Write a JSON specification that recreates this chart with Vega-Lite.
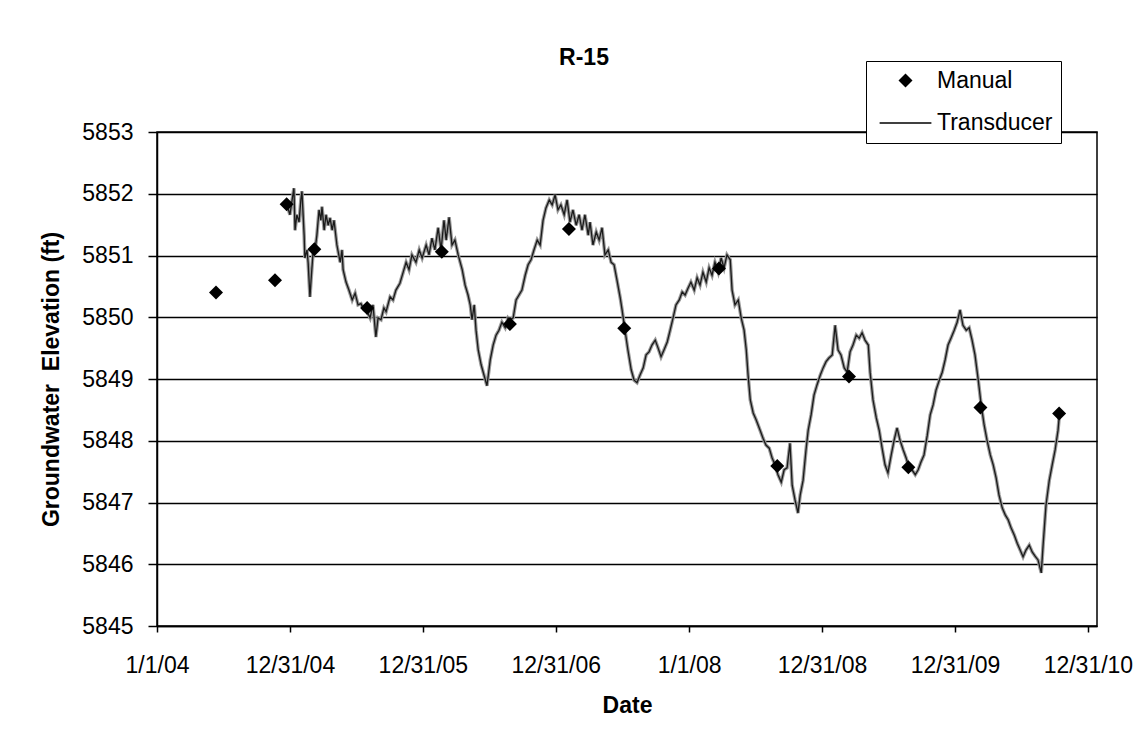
{
  "$schema": "https://vega.github.io/schema/vega-lite/v6.json",
  "width": 940,
  "height": 494,
  "autosize": "none",
  "padding": {"left": 157, "top": 132, "right": 41, "bottom": 129},
  "background": "white",
  "title": {"text": "R-15", "fontSize": 23, "fontWeight": "bold", "font": "Liberation Sans", "color": "black", "anchor": "middle", "frame": "group", "dx": -43, "offset": -27, "baseline": "alphabetic"},
  "datasets": {
    "transducer": [
      {"date": "2004-12-23", "elev": 5851.82}, {"date": "2004-12-31", "elev": 5851.66}, {"date": "2005-01-06", "elev": 5851.90}, {"date": "2005-01-11", "elev": 5852.09},
      {"date": "2005-01-14", "elev": 5851.41}, {"date": "2005-01-19", "elev": 5851.66}, {"date": "2005-01-25", "elev": 5851.54}, {"date": "2005-01-30", "elev": 5851.90},
      {"date": "2005-02-02", "elev": 5852.04}, {"date": "2005-02-08", "elev": 5851.33}, {"date": "2005-02-10", "elev": 5850.96}, {"date": "2005-02-16", "elev": 5851.09},
      {"date": "2005-02-19", "elev": 5850.88}, {"date": "2005-02-24", "elev": 5850.33}, {"date": "2005-02-27", "elev": 5850.60}, {"date": "2005-03-04", "elev": 5851.01},
      {"date": "2005-03-10", "elev": 5851.09}, {"date": "2005-03-15", "elev": 5851.33}, {"date": "2005-03-21", "elev": 5851.74}, {"date": "2005-03-26", "elev": 5851.57},
      {"date": "2005-03-29", "elev": 5851.79}, {"date": "2005-04-04", "elev": 5851.41}, {"date": "2005-04-09", "elev": 5851.66}, {"date": "2005-04-15", "elev": 5851.49},
      {"date": "2005-04-20", "elev": 5851.61}, {"date": "2005-04-26", "elev": 5851.41}, {"date": "2005-05-01", "elev": 5851.57}, {"date": "2005-05-09", "elev": 5851.17},
      {"date": "2005-05-18", "elev": 5850.89}, {"date": "2005-05-23", "elev": 5851.09}, {"date": "2005-05-26", "elev": 5850.77}, {"date": "2005-06-03", "elev": 5850.57},
      {"date": "2005-06-11", "elev": 5850.44}, {"date": "2005-06-20", "elev": 5850.28}, {"date": "2005-06-28", "elev": 5850.39}, {"date": "2005-07-06", "elev": 5850.20},
      {"date": "2005-07-14", "elev": 5850.22}, {"date": "2005-07-22", "elev": 5850.12}, {"date": "2005-07-31", "elev": 5850.09}, {"date": "2005-08-08", "elev": 5849.99},
      {"date": "2005-08-16", "elev": 5850.20}, {"date": "2005-08-24", "elev": 5849.68}, {"date": "2005-08-30", "elev": 5849.99}, {"date": "2005-09-07", "elev": 5849.96},
      {"date": "2005-09-15", "elev": 5850.15}, {"date": "2005-09-21", "elev": 5850.09}, {"date": "2005-10-02", "elev": 5850.33}, {"date": "2005-10-10", "elev": 5850.28},
      {"date": "2005-10-18", "elev": 5850.44}, {"date": "2005-10-29", "elev": 5850.55}, {"date": "2005-11-07", "elev": 5850.73}, {"date": "2005-11-15", "elev": 5850.89},
      {"date": "2005-11-23", "elev": 5850.77}, {"date": "2005-12-01", "elev": 5851.01}, {"date": "2005-12-12", "elev": 5850.89}, {"date": "2005-12-21", "elev": 5851.09},
      {"date": "2005-12-29", "elev": 5850.96}, {"date": "2006-01-09", "elev": 5851.17}, {"date": "2006-01-17", "elev": 5851.01}, {"date": "2006-01-25", "elev": 5851.28},
      {"date": "2006-02-02", "elev": 5851.09}, {"date": "2006-02-11", "elev": 5851.45}, {"date": "2006-02-19", "elev": 5851.09}, {"date": "2006-02-27", "elev": 5851.57},
      {"date": "2006-03-05", "elev": 5851.25}, {"date": "2006-03-13", "elev": 5851.62}, {"date": "2006-03-21", "elev": 5851.17}, {"date": "2006-03-29", "elev": 5851.25},
      {"date": "2006-04-07", "elev": 5851.01}, {"date": "2006-04-18", "elev": 5850.77}, {"date": "2006-04-26", "elev": 5850.52}, {"date": "2006-05-04", "elev": 5850.36},
      {"date": "2006-05-10", "elev": 5850.20}, {"date": "2006-05-15", "elev": 5849.96}, {"date": "2006-05-21", "elev": 5850.20}, {"date": "2006-05-26", "elev": 5849.79},
      {"date": "2006-06-01", "elev": 5849.47}, {"date": "2006-06-09", "elev": 5849.23}, {"date": "2006-06-17", "elev": 5849.06}, {"date": "2006-06-25", "elev": 5848.89},
      {"date": "2006-07-04", "elev": 5849.31}, {"date": "2006-07-12", "elev": 5849.55}, {"date": "2006-07-20", "elev": 5849.71}, {"date": "2006-07-28", "elev": 5849.79},
      {"date": "2006-08-05", "elev": 5849.92}, {"date": "2006-08-14", "elev": 5849.83}, {"date": "2006-08-22", "elev": 5849.99}, {"date": "2006-08-27", "elev": 5849.96},
      {"date": "2006-09-05", "elev": 5849.99}, {"date": "2006-09-13", "elev": 5850.28}, {"date": "2006-09-21", "elev": 5850.36}, {"date": "2006-09-29", "elev": 5850.44},
      {"date": "2006-10-08", "elev": 5850.68}, {"date": "2006-10-16", "elev": 5850.85}, {"date": "2006-10-24", "elev": 5850.93}, {"date": "2006-11-01", "elev": 5851.09},
      {"date": "2006-11-10", "elev": 5851.25}, {"date": "2006-11-18", "elev": 5851.17}, {"date": "2006-11-26", "elev": 5851.57}, {"date": "2006-12-04", "elev": 5851.77},
      {"date": "2006-12-13", "elev": 5851.90}, {"date": "2006-12-21", "elev": 5851.82}, {"date": "2006-12-29", "elev": 5851.98}, {"date": "2007-01-06", "elev": 5851.74},
      {"date": "2007-01-14", "elev": 5851.82}, {"date": "2007-01-23", "elev": 5851.66}, {"date": "2007-01-31", "elev": 5851.90}, {"date": "2007-02-08", "elev": 5851.54},
      {"date": "2007-02-16", "elev": 5851.74}, {"date": "2007-02-25", "elev": 5851.49}, {"date": "2007-03-05", "elev": 5851.66}, {"date": "2007-03-13", "elev": 5851.41},
      {"date": "2007-03-21", "elev": 5851.66}, {"date": "2007-03-30", "elev": 5851.33}, {"date": "2007-04-04", "elev": 5851.54}, {"date": "2007-04-12", "elev": 5851.17},
      {"date": "2007-04-21", "elev": 5851.38}, {"date": "2007-04-29", "elev": 5851.25}, {"date": "2007-05-07", "elev": 5851.45}, {"date": "2007-05-15", "elev": 5851.01},
      {"date": "2007-05-24", "elev": 5851.09}, {"date": "2007-06-01", "elev": 5850.89}, {"date": "2007-06-09", "elev": 5850.85}, {"date": "2007-06-17", "elev": 5850.60},
      {"date": "2007-06-26", "elev": 5850.31}, {"date": "2007-07-01", "elev": 5850.12}, {"date": "2007-07-09", "elev": 5849.79}, {"date": "2007-07-17", "elev": 5849.47},
      {"date": "2007-07-26", "elev": 5849.15}, {"date": "2007-08-03", "elev": 5848.98}, {"date": "2007-08-11", "elev": 5848.94}, {"date": "2007-08-19", "elev": 5849.06},
      {"date": "2007-08-28", "elev": 5849.18}, {"date": "2007-09-05", "elev": 5849.39}, {"date": "2007-09-13", "elev": 5849.44}, {"date": "2007-09-21", "elev": 5849.55},
      {"date": "2007-09-30", "elev": 5849.63}, {"date": "2007-10-08", "elev": 5849.50}, {"date": "2007-10-16", "elev": 5849.36}, {"date": "2007-10-24", "elev": 5849.47},
      {"date": "2007-11-02", "elev": 5849.60}, {"date": "2007-11-10", "elev": 5849.79}, {"date": "2007-11-18", "elev": 5849.99}, {"date": "2007-11-26", "elev": 5850.20},
      {"date": "2007-12-05", "elev": 5850.28}, {"date": "2007-12-13", "elev": 5850.41}, {"date": "2007-12-21", "elev": 5850.36}, {"date": "2007-12-29", "elev": 5850.47},
      {"date": "2008-01-06", "elev": 5850.57}, {"date": "2008-01-15", "elev": 5850.44}, {"date": "2008-01-23", "elev": 5850.64}, {"date": "2008-01-31", "elev": 5850.52},
      {"date": "2008-02-08", "elev": 5850.73}, {"date": "2008-02-17", "elev": 5850.57}, {"date": "2008-02-25", "elev": 5850.80}, {"date": "2008-03-04", "elev": 5850.68},
      {"date": "2008-03-12", "elev": 5850.89}, {"date": "2008-03-21", "elev": 5850.73}, {"date": "2008-03-29", "elev": 5850.96}, {"date": "2008-04-06", "elev": 5850.80},
      {"date": "2008-04-14", "elev": 5851.01}, {"date": "2008-04-23", "elev": 5850.93}, {"date": "2008-04-28", "elev": 5850.44}, {"date": "2008-05-06", "elev": 5850.20},
      {"date": "2008-05-15", "elev": 5850.28}, {"date": "2008-05-23", "elev": 5849.99}, {"date": "2008-05-31", "elev": 5849.79}, {"date": "2008-06-06", "elev": 5849.47},
      {"date": "2008-06-11", "elev": 5849.06}, {"date": "2008-06-17", "elev": 5848.66}, {"date": "2008-06-25", "elev": 5848.45}, {"date": "2008-07-03", "elev": 5848.34},
      {"date": "2008-07-14", "elev": 5848.17}, {"date": "2008-07-22", "elev": 5848.04}, {"date": "2008-07-30", "elev": 5847.93}, {"date": "2008-08-08", "elev": 5847.88},
      {"date": "2008-08-16", "elev": 5847.72}, {"date": "2008-08-24", "elev": 5847.61}, {"date": "2008-09-01", "elev": 5847.45}, {"date": "2008-09-10", "elev": 5847.33},
      {"date": "2008-09-18", "elev": 5847.53}, {"date": "2008-09-26", "elev": 5847.56}, {"date": "2008-10-04", "elev": 5847.96}, {"date": "2008-10-10", "elev": 5847.28},
      {"date": "2008-10-18", "elev": 5847.04}, {"date": "2008-10-26", "elev": 5846.83}, {"date": "2008-11-01", "elev": 5847.12}, {"date": "2008-11-09", "elev": 5847.36},
      {"date": "2008-11-17", "elev": 5847.85}, {"date": "2008-11-23", "elev": 5848.17}, {"date": "2008-12-01", "elev": 5848.42}, {"date": "2008-12-09", "elev": 5848.74},
      {"date": "2008-12-17", "elev": 5848.90}, {"date": "2008-12-26", "elev": 5849.06}, {"date": "2009-01-03", "elev": 5849.18}, {"date": "2009-01-11", "elev": 5849.28},
      {"date": "2009-01-19", "elev": 5849.34}, {"date": "2009-01-28", "elev": 5849.39}, {"date": "2009-02-05", "elev": 5849.87}, {"date": "2009-02-13", "elev": 5849.47},
      {"date": "2009-02-21", "elev": 5849.39}, {"date": "2009-03-02", "elev": 5849.18}, {"date": "2009-03-10", "elev": 5849.11}, {"date": "2009-03-18", "elev": 5849.44},
      {"date": "2009-03-26", "elev": 5849.55}, {"date": "2009-04-04", "elev": 5849.71}, {"date": "2009-04-12", "elev": 5849.66}, {"date": "2009-04-20", "elev": 5849.75},
      {"date": "2009-04-28", "elev": 5849.63}, {"date": "2009-05-07", "elev": 5849.55}, {"date": "2009-05-12", "elev": 5849.11}, {"date": "2009-05-20", "elev": 5848.66},
      {"date": "2009-05-29", "elev": 5848.37}, {"date": "2009-06-06", "elev": 5848.17}, {"date": "2009-06-14", "elev": 5847.88}, {"date": "2009-06-22", "elev": 5847.61},
      {"date": "2009-06-30", "elev": 5847.48}, {"date": "2009-07-09", "elev": 5847.77}, {"date": "2009-07-17", "elev": 5848.01}, {"date": "2009-07-25", "elev": 5848.21},
      {"date": "2009-08-02", "elev": 5848.01}, {"date": "2009-08-11", "elev": 5847.85}, {"date": "2009-08-19", "elev": 5847.72}, {"date": "2009-08-27", "elev": 5847.56},
      {"date": "2009-09-04", "elev": 5847.53}, {"date": "2009-09-13", "elev": 5847.45}, {"date": "2009-09-21", "elev": 5847.53}, {"date": "2009-09-29", "elev": 5847.66},
      {"date": "2009-10-07", "elev": 5847.77}, {"date": "2009-10-16", "elev": 5848.09}, {"date": "2009-10-24", "elev": 5848.42}, {"date": "2009-11-01", "elev": 5848.58},
      {"date": "2009-11-09", "elev": 5848.82}, {"date": "2009-11-18", "elev": 5848.98}, {"date": "2009-11-26", "elev": 5849.11}, {"date": "2009-12-04", "elev": 5849.31},
      {"date": "2009-12-12", "elev": 5849.55}, {"date": "2009-12-20", "elev": 5849.66}, {"date": "2009-12-29", "elev": 5849.79}, {"date": "2010-01-06", "elev": 5849.92},
      {"date": "2010-01-14", "elev": 5850.12}, {"date": "2010-01-22", "elev": 5849.87}, {"date": "2010-01-31", "elev": 5849.79}, {"date": "2010-02-08", "elev": 5849.83},
      {"date": "2010-02-16", "elev": 5849.63}, {"date": "2010-02-24", "elev": 5849.39}, {"date": "2010-03-05", "elev": 5848.98}, {"date": "2010-03-13", "elev": 5848.58},
      {"date": "2010-03-21", "elev": 5848.26}, {"date": "2010-03-29", "elev": 5848.01}, {"date": "2010-04-07", "elev": 5847.77}, {"date": "2010-04-15", "elev": 5847.61},
      {"date": "2010-04-23", "elev": 5847.40}, {"date": "2010-05-01", "elev": 5847.12}, {"date": "2010-05-10", "elev": 5846.91}, {"date": "2010-05-18", "elev": 5846.80},
      {"date": "2010-05-26", "elev": 5846.72}, {"date": "2010-06-03", "elev": 5846.59}, {"date": "2010-06-12", "elev": 5846.47}, {"date": "2010-06-20", "elev": 5846.34},
      {"date": "2010-06-28", "elev": 5846.23}, {"date": "2010-07-06", "elev": 5846.12}, {"date": "2010-07-14", "elev": 5846.23}, {"date": "2010-07-23", "elev": 5846.31},
      {"date": "2010-07-31", "elev": 5846.20}, {"date": "2010-08-08", "elev": 5846.13}, {"date": "2010-08-16", "elev": 5846.07}, {"date": "2010-08-25", "elev": 5845.86},
      {"date": "2010-08-30", "elev": 5846.31}, {"date": "2010-09-07", "elev": 5846.96}, {"date": "2010-09-16", "elev": 5847.36}, {"date": "2010-09-24", "elev": 5847.61},
      {"date": "2010-10-02", "elev": 5847.85}, {"date": "2010-10-10", "elev": 5848.17}, {"date": "2010-10-13", "elev": 5848.37}
    ],
    "manual": [
      {"date": "2004-06-11", "elev": 5850.40, "series": "Manual"},
      {"date": "2004-11-20", "elev": 5850.60, "series": "Manual"},
      {"date": "2004-12-22", "elev": 5851.83, "series": "Manual"},
      {"date": "2005-03-08", "elev": 5851.10, "series": "Manual"},
      {"date": "2005-07-31", "elev": 5850.15, "series": "Manual"},
      {"date": "2006-02-21", "elev": 5851.06, "series": "Manual"},
      {"date": "2006-08-27", "elev": 5849.89, "series": "Manual"},
      {"date": "2007-02-05", "elev": 5851.43, "series": "Manual"},
      {"date": "2007-07-07", "elev": 5849.82, "series": "Manual"},
      {"date": "2008-03-23", "elev": 5850.79, "series": "Manual"},
      {"date": "2008-08-30", "elev": 5847.59, "series": "Manual"},
      {"date": "2009-03-15", "elev": 5849.04, "series": "Manual"},
      {"date": "2009-08-25", "elev": 5847.57, "series": "Manual"},
      {"date": "2010-03-11", "elev": 5848.54, "series": "Manual"},
      {"date": "2010-10-13", "elev": 5848.44, "series": "Manual"}
    ]
  },
  "encoding": {
    "x": {
      "field": "date", "type": "temporal",
      "scale": {"type": "utc", "domain": [{"year": 2004, "month": 1, "date": 1, "utc": true}, {"year": 2011, "month": 1, "date": 25, "utc": true}]},
      "axis": {
        "title": "Date", "grid": false, "tickSize": 6, "labelPadding": 22, "titlePadding": 17,
        "labelFlush": false, "labelOverlap": false,
        "values": [
          {"year": 2004, "month": 1, "date": 1, "utc": true},
          {"year": 2004, "month": 12, "date": 31, "utc": true},
          {"year": 2005, "month": 12, "date": 31, "utc": true},
          {"year": 2006, "month": 12, "date": 31, "utc": true},
          {"year": 2008, "month": 1, "date": 1, "utc": true},
          {"year": 2008, "month": 12, "date": 31, "utc": true},
          {"year": 2009, "month": 12, "date": 31, "utc": true},
          {"year": 2010, "month": 12, "date": 31, "utc": true}
        ],
        "labelExpr": "utcFormat(datum.value, '%-m/%-d/%y')"
      }
    },
    "y": {
      "field": "elev", "type": "quantitative",
      "scale": {"domain": [5845, 5853], "zero": false, "nice": false},
      "axis": {
        "title": "Groundwater\u00a0 Elevation (ft)", "grid": true, "tickSize": 9, "labelPadding": 15, "titlePadding": 18,
        "values": [5845, 5846, 5847, 5848, 5849, 5850, 5851, 5852, 5853], "format": "d"
      }
    }
  },
  "layer": [
    {
      "data": {"name": "transducer"},
      "mark": {"type": "line", "color": "#9a9a9a", "strokeWidth": 3.5, "clip": true}
    },
    {
      "data": {"name": "transducer"},
      "mark": {"type": "line", "color": "#1a1a1a", "strokeWidth": 1.3, "clip": true}
    },
    {
      "data": {"name": "manual"},
      "mark": {"type": "point", "filled": true, "opacity": 1, "size": 196, "color": "black"},
      "encoding": {
        "shape": {
          "field": "series", "type": "nominal",
          "scale": {"domain": ["Manual", "Transducer"], "range": ["diamond", "M-3.7,-0.09H3.7V0.09H-3.7Z"]},
          "legend": {
            "title": null, "orient": "none", "legendX": 709, "legendY": -71, "direction": "vertical",
            "padding": 8, "strokeColor": "black", "fillColor": "white",
            "symbolSize": 196, "symbolOffset": 20, "labelOffset": 20, "rowPadding": 18.5,
            "labelFontSize": 23, "labelFont": "Liberation Sans", "labelColor": "black",
            "symbolFillColor": "black", "symbolStrokeColor": "black", "symbolStrokeWidth": 0,
            "encode": {"symbols": {"fill": {"value": "black"}, "opacity": {"value": 1}}}
          }
        }
      }
    }
  ],
  "config": {
    "font": "Liberation Sans",
    "view": {"stroke": "black", "strokeWidth": 1.5},
    "axis": {
      "labelFont": "Liberation Sans", "labelFontSize": 23, "labelColor": "black",
      "titleFont": "Liberation Sans", "titleFontSize": 23, "titleFontWeight": "bold", "titleColor": "black",
      "domainColor": "black", "domainWidth": 1.5, "tickColor": "black", "tickWidth": 1.5,
      "gridColor": "black", "gridWidth": 1.5, "gridOpacity": 1
    }
  }
}
